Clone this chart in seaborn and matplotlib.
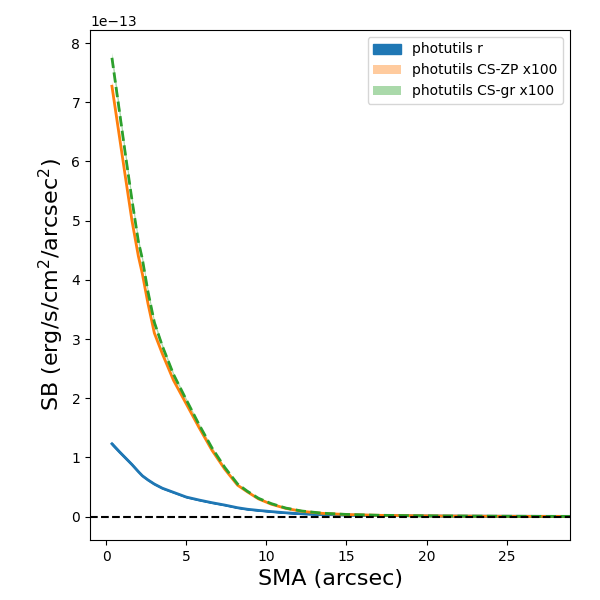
import numpy as np
import matplotlib
matplotlib.use("Agg")
import matplotlib.pyplot as plt
import seaborn as sns

# SMA (arcsec) of the isophotes
sma = [0.35, 0.8, 1.2, 1.6, 2.0, 2.25, 2.6, 3.0, 3.5, 4.2, 5.0, 5.8, 6.6, 7.4,
       8.2, 8.8, 9.5, 10.3, 11.2, 12.2, 13.5, 15.0, 17.0, 19.0, 21.0, 24.0,
       27.0, 29.5]

# surface brightness, units of 1e-13 erg/s/cm2/arcsec2
sb_r = [1.23, 1.10, 0.99, 0.88, 0.76, 0.69, 0.62, 0.55, 0.48, 0.41, 0.33,
        0.28, 0.235, 0.195, 0.15, 0.125, 0.105, 0.085, 0.065, 0.048, 0.036,
        0.027, 0.019, 0.014, 0.010, 0.007, 0.005, 0.004]
sb_zp = [7.27, 6.45, 5.72, 5.0, 4.4, 4.1, 3.6, 3.1, 2.75, 2.3, 1.9, 1.5,
         1.12, 0.8, 0.53, 0.42, 0.3, 0.21, 0.14, 0.09, 0.055, 0.035, 0.022,
         0.015, 0.01, 0.006, 0.004, 0.003]
sb_gr = [7.75, 6.88, 6.1, 5.35, 4.65, 4.35, 3.8, 3.28, 2.88, 2.4, 1.97, 1.55,
         1.16, 0.83, 0.55, 0.43, 0.31, 0.22, 0.145, 0.095, 0.058, 0.037,
         0.023, 0.016, 0.011, 0.007, 0.004, 0.003]

# relative uncertainty of the profiles
rel_err = 0.012

x = np.array(sma)
scale = 1e-13
r = np.array(sb_r) * scale
zp = np.array(sb_zp) * scale
gr = np.array(sb_gr) * scale

fig, ax = plt.subplots(figsize=(6, 6), dpi=100)
fig.subplots_adjust(left=0.15, right=0.95, bottom=0.1, top=0.95)

ax.fill_between(x, r * (1 - rel_err), r * (1 + rel_err), color='C0',
                label='photutils r')
sns.lineplot(x=x, y=r, ax=ax, color='C0', lw=2, legend=False)

ax.fill_between(x, zp * (1 - rel_err), zp * (1 + rel_err), color='C1',
                alpha=0.4, lw=0, label='photutils CS-ZP x100')
sns.lineplot(x=x, y=zp, ax=ax, color='C1', lw=2, legend=False)

ax.fill_between(x, gr * (1 - rel_err), gr * (1 + rel_err), color='C2',
                alpha=0.4, lw=0, label='photutils CS-gr x100')
sns.lineplot(x=x, y=gr, ax=ax, color='C2', lw=2, ls='--', legend=False)

ax.axhline(0, color='k', ls='--')

ax.set_xlim(-1.02, 28.96)
ax.set_ylim(-0.395e-13, 8.22e-13)
ax.set_xlabel('SMA (arcsec)', fontsize=16)
ax.set_ylabel('SB (erg/s/cm$^2$/arcsec$^2$)', fontsize=16)
ax.legend(loc='upper right')

fig.savefig('out.png', dpi=100)
